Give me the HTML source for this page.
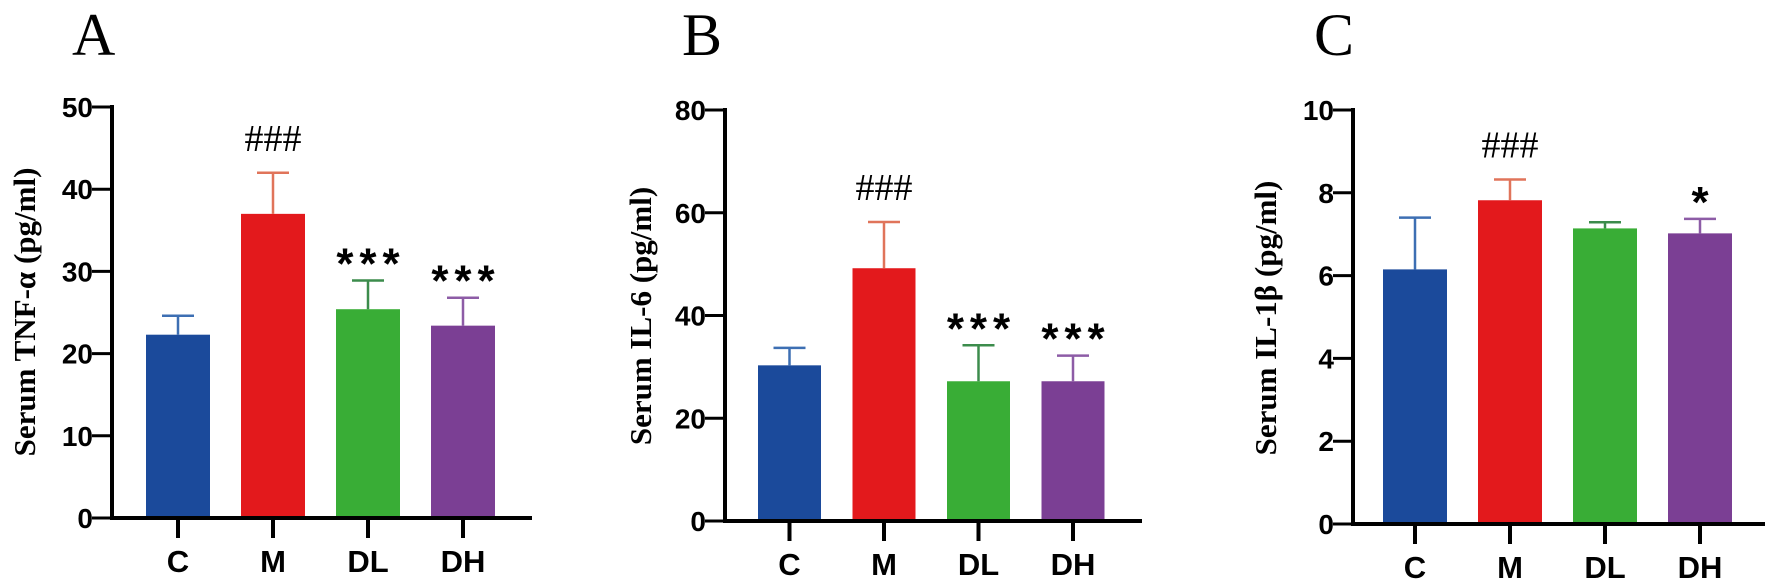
<!DOCTYPE html>
<html><head><meta charset="utf-8"><style>
html,body{margin:0;padding:0;background:#fff;width:1772px;height:579px;overflow:hidden}
svg{display:block}
.tick{font-family:"Liberation Sans",Arial,sans-serif;font-weight:bold;font-size:28px}
.xl{font-family:"Liberation Sans",Arial,sans-serif;font-weight:bold;font-size:31px}
.yt{font-family:"Liberation Serif",serif;font-weight:bold;font-size:31px}
.pl{font-family:"Liberation Serif",serif;font-size:60px}
.sig{font-family:"Liberation Serif",serif;font-size:38px}
.star{font-family:"Liberation Sans",Arial,sans-serif;font-weight:bold;font-size:44px;letter-spacing:6px}
</style></head><body>
<svg id="fig" width="1772" height="579" viewBox="0 0 1772 579" xmlns="http://www.w3.org/2000/svg"></svg>
<script>
const categories = ["C","M","DL","DH"];
const tnfValues = [22.3, 37.0, 25.4, 23.4];
const tnfErrors = [2.3, 5.0, 3.5, 3.4];
const il6Values = [30.3, 49.2, 27.2, 27.2];
const il6Errors = [3.4, 9.0, 7.0, 5.0];
const il1bValues = [6.15, 7.82, 7.14, 7.02];
const il1bErrors = [1.25, 0.5, 0.15, 0.35];
const tnfTicks = [0,10,20,30,40,50];
const il6Ticks = [0,20,40,60,80];
const il1bTicks = [0,2,4,6,8,10];
const tnfSig = ["","###","***","***"];
const il6Sig = ["","###","***","***"];
const il1bSig = ["","###","","*"];

const fills = ["#1b4a9b","#e3191c","#39ad36","#7b3f94"];
const errCols = ["#3d6fb3","#e0745a","#3c8c4c","#8d5ca6"];
const NS = "http://www.w3.org/2000/svg";
const svg = document.getElementById("fig");
function mk(tag, attrs, parent, text){
  const e = document.createElementNS(NS, tag);
  for (const k in attrs) e.setAttribute(k, attrs[k]);
  if (text !== undefined) e.textContent = text;
  (parent||svg).appendChild(e);
  return e;
}
function panel(p){
  const g = mk("g", {});
  
  
  const y = v => p.y0 - (v / p.max) * (p.y0 - p.ytop);
  const bx = i => p.bar0 + i * p.step;
  const L = mk("text", {x:p.lx, y:55, class:"pl"}, g, p.letter);
  
  
  const T = mk("text", {x:0, y:0, class:"yt", "text-anchor":"middle", transform:`translate(${p.tx},${p.ty}) rotate(-90)`}, g, p.title);
  
  
  p.vals.forEach((v,i)=>{
    const x = bx(i), top = y(v), et = y(v + p.errs[i]), cx = x + p.bw/2;
    const r = mk("rect", {x:x, y:top, width:p.bw, height:p.y0-top, fill:fills[i]}, g);
    
    
    const e1 = mk("line", {x1:cx, x2:cx, y1:top, y2:et, stroke:errCols[i], "stroke-width":2.5}, g);
    
    
    const e2 = mk("line", {x1:cx-16, x2:cx+16, y1:et, y2:et, stroke:errCols[i], "stroke-width":2.5}, g);
    
    
    if (p.sig[i]) {
      const star = p.sig[i][0] === "*";
      const s = mk("text", {x:cx + (star ? 3 : 0), y: star ? et - 2 : et - 22, class: star ? "star" : "sig", "text-anchor":"middle"}, g, p.sig[i]);
      
      
    }
    const xt = mk("line", {x1:cx, x2:cx, y1:p.y0, y2:p.y0+20, stroke:"#000", "stroke-width":4}, g);
    
    
    const xl = mk("text", {x:cx, y:p.y0+54, class:"xl", "text-anchor":"middle"}, g, categories[i]);
    
    
  });
  const ya = mk("line", {x1:p.ax, x2:p.ax, y1:p.ytop-2, y2:p.y0+2, stroke:"#000", "stroke-width":4}, g);
  
  
  const xa = mk("line", {x1:p.ax-2, x2:p.xend, y1:p.y0, y2:p.y0, stroke:"#000", "stroke-width":4}, g);
  
  
  p.ticks.forEach(t=>{
    const ty = y(t);
    const tl = mk("line", {x1:p.ax-20, x2:p.ax, y1:ty, y2:ty, stroke:"#000", "stroke-width":3}, g);
    
    
    const tt = mk("text", {x:p.ax-19, y:ty+10, class:"tick", "text-anchor":"end"}, g, String(t));
    
    
  });
}
panel({name:"panel-a-tnf", letter:"A", lx:72, title:"Serum TNF-α (pg/ml)", tx:35, ty:312,
  ax:112, y0:518, ytop:107, max:50, bar0:146, step:95, bw:64, xend:532,
  vals:tnfValues, errs:tnfErrors, ticks:tnfTicks, sig:tnfSig});
panel({name:"panel-b-il6", letter:"B", lx:682, title:"Serum IL-6 (pg/ml)", tx:651, ty:316,
  ax:725, y0:521, ytop:110, max:80, bar0:758, step:94.5, bw:63, xend:1142,
  vals:il6Values, errs:il6Errors, ticks:il6Ticks, sig:il6Sig});
panel({name:"panel-c-il1b", letter:"C", lx:1314, title:"Serum IL-1β (pg/ml)", tx:1276, ty:318,
  ax:1353, y0:524, ytop:110, max:10, bar0:1383, step:95, bw:64, xend:1765,
  vals:il1bValues, errs:il1bErrors, ticks:il1bTicks, sig:il1bSig});
</script>
</body></html>
